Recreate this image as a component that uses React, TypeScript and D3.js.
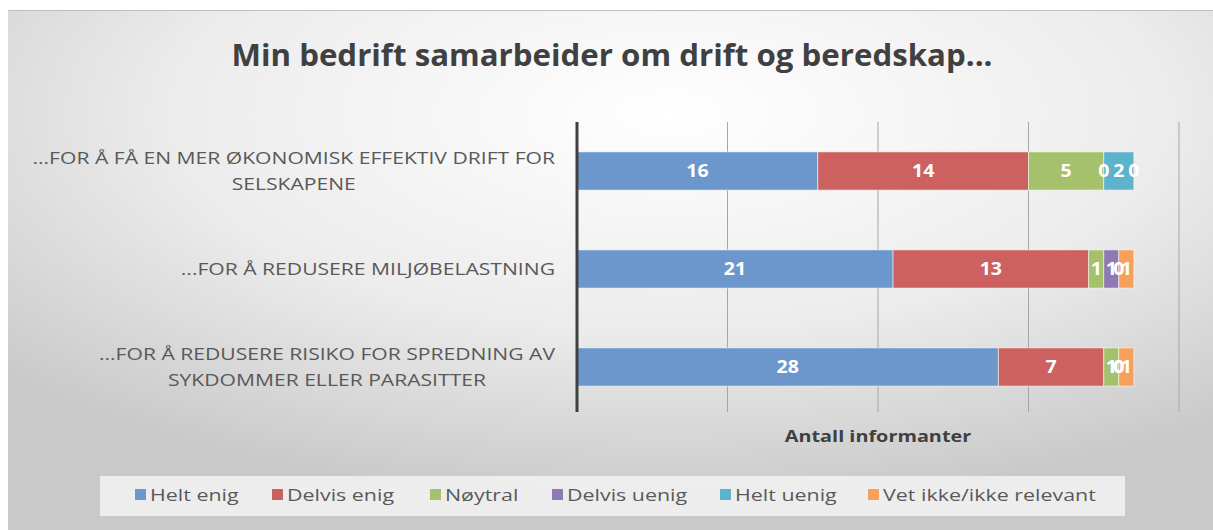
import React, { useLayoutEffect, useRef, useState } from 'react';
import * as d3 from 'd3';

const categories = [
  ['...FOR Å FÅ EN MER ØKONOMISK EFFEKTIV DRIFT FOR', 'SELSKAPENE'],
  ['...FOR Å REDUSERE MILJØBELASTNING'],
  ['...FOR Å REDUSERE RISIKO FOR SPREDNING AV', 'SYKDOMMER ELLER PARASITTER'],
];
const seriesNames = ['Helt enig', 'Delvis enig', 'Nøytral', 'Delvis uenig', 'Helt uenig', 'Vet ikke/ikke relevant'];
const seriesColors = ['#6b97cd', '#cc615f', '#a6c16c', '#8e79b2', '#5db2cc', '#f7a05c'];
const heltEnig = [16, 21, 28];
const delvisEnig = [14, 13, 7];
const noytral = [5, 1, 1];
const delvisUenig = [0, 1, 0];
const heltUenig = [2, 0, 0];
const vetIkke = [0, 1, 1];
const xTicks = [0, 10, 20, 30, 40];

const W = 1213;
const H = 530;
const font = '"Open Sans", Lato, sans-serif';

// text that is stretched horizontally (the reference font is wide)
function SText({ x, y, sx, children, ...rest }: any) {
  return (
    <text transform={`translate(${x},${y}) scale(${sx},1)`} dy="0.36em" {...rest}>
      {children}
    </text>
  );
}

export default function App() {
  const labelsRef = useRef<SVGGElement>(null);
  const [blockW, setBlockW] = useState<number[]>(categories.map(() => 0));
  const catSx = 1.28;

  // width of each wrapped label block, so the lines can be centred inside it
  useLayoutEffect(() => {
    if (!labelsRef.current) return;
    const ws = categories.map((lines, i) => {
      const nodes = labelsRef.current!.querySelectorAll(`text.cat-${i}`);
      let m = 0;
      nodes.forEach(n => (m = Math.max(m, (n as SVGTextElement).getComputedTextLength())));
      return m * catSx;
    });
    setBlockW(ws);
  }, []);

  const values = [heltEnig, delvisEnig, noytral, delvisUenig, heltUenig, vetIkke];
  const rows = categories.map((_, i) => {
    const r: Record<string, number> = { idx: i };
    seriesNames.forEach((s, j) => (r[s] = values[j][i]));
    return r;
  });
  const stacked = d3.stack<Record<string, number>>().keys(seriesNames)(rows);

  const x = d3.scaleLinear().domain([0, 40]).range([577, 1179]);
  const y = d3.scaleBand<number>().domain(categories.map((_, i) => i)).range([122, 416]).paddingInner(0.61).paddingOuter(0.305);
  const bw = y.bandwidth();

  const legendX = [135, 272, 430, 552, 720, 868];
  const labelRight = 555;

  return (
    <svg width={W} height={H} style={{ position: 'absolute', left: 0, top: 0 }} fontFamily={font}>
      <defs>
        <radialGradient id="bg" cx="0.55" cy="0.2" r="0.75" fx="0.55" fy="0.2">
          <stop offset="0" stopColor="#ffffff" />
          <stop offset="0.55" stopColor="#ececec" />
          <stop offset="1" stopColor="#c9c9c9" />
        </radialGradient>
      </defs>
      <rect x={0} y={0} width={W} height={H} fill="#ffffff" />
      <rect x={8} y={10} width={W - 8} height={H - 10} fill="url(#bg)" />
      <line x1={8} x2={W} y1={10.5} y2={10.5} stroke="#bfbfbf" />

      <text x={612} y={66} textAnchor="middle" fontSize={30} fontWeight={700} fill="#404040" textLength={761} lengthAdjust="spacingAndGlyphs">
        Min bedrift samarbeider om drift og beredskap...
      </text>

      {xTicks.slice(1).map(t => (
        <line key={t} x1={x(t)} x2={x(t)} y1={122} y2={412} stroke="#a6a6a6" strokeWidth={1} />
      ))}

      {stacked.map((layer, j) => (
        <g key={layer.key}>
          {layer.map((d, i) => (
            <rect key={i} x={x(d[0])} y={y(i)!} width={x(d[1]) - x(d[0])} height={bw}
              fill={seriesColors[j]} stroke="rgba(255,255,255,0.55)" strokeWidth={1} />
          ))}
        </g>
      ))}

      {stacked.map((layer, j) => (
        <g key={'l' + layer.key}>
          {layer.map((d, i) => (
            <SText key={i} x={(x(d[0]) + x(d[1])) / 2} y={y(i)! + bw / 2} sx={1.15} textAnchor="middle"
              fontSize={17} fontWeight={700} fill="#ffffff">
              {d[1] - d[0]}
            </SText>
          ))}
        </g>
      ))}

      <line x1={577} x2={577} y1={122} y2={412} stroke="#404040" strokeWidth={3} />

      <g ref={labelsRef}>
        {categories.map((lines, i) => {
          const cy = y(i)! + bw / 2;
          const lh = 26.5;
          const cx = labelRight - blockW[i] / 2;
          return lines.map((l, k) => (
            <SText key={i + '-' + k} className={`cat-${i}`} x={cx} sx={catSx}
              y={cy + (k - (lines.length - 1) / 2) * lh}
              textAnchor="middle" fontSize={16.5} fill="#595959">
              {l}
            </SText>
          ));
        })}
      </g>

      <SText x={878} y={436} sx={1.24} textAnchor="middle" fontSize={16} fontWeight={700} fill="#404040">
        Antall informanter
      </SText>

      <rect x={100} y={476} width={1025} height={40} fill="rgba(248,248,248,0.75)" />
      {seriesNames.map((s, j) => (
        <g key={s}>
          <rect x={legendX[j]} y={489} width={11} height={11} fill={seriesColors[j]} />
          <SText x={legendX[j] + 15} y={495} sx={1.26} fontSize={17} fill="#595959">{s}</SText>
        </g>
      ))}
    </svg>
  );
}
